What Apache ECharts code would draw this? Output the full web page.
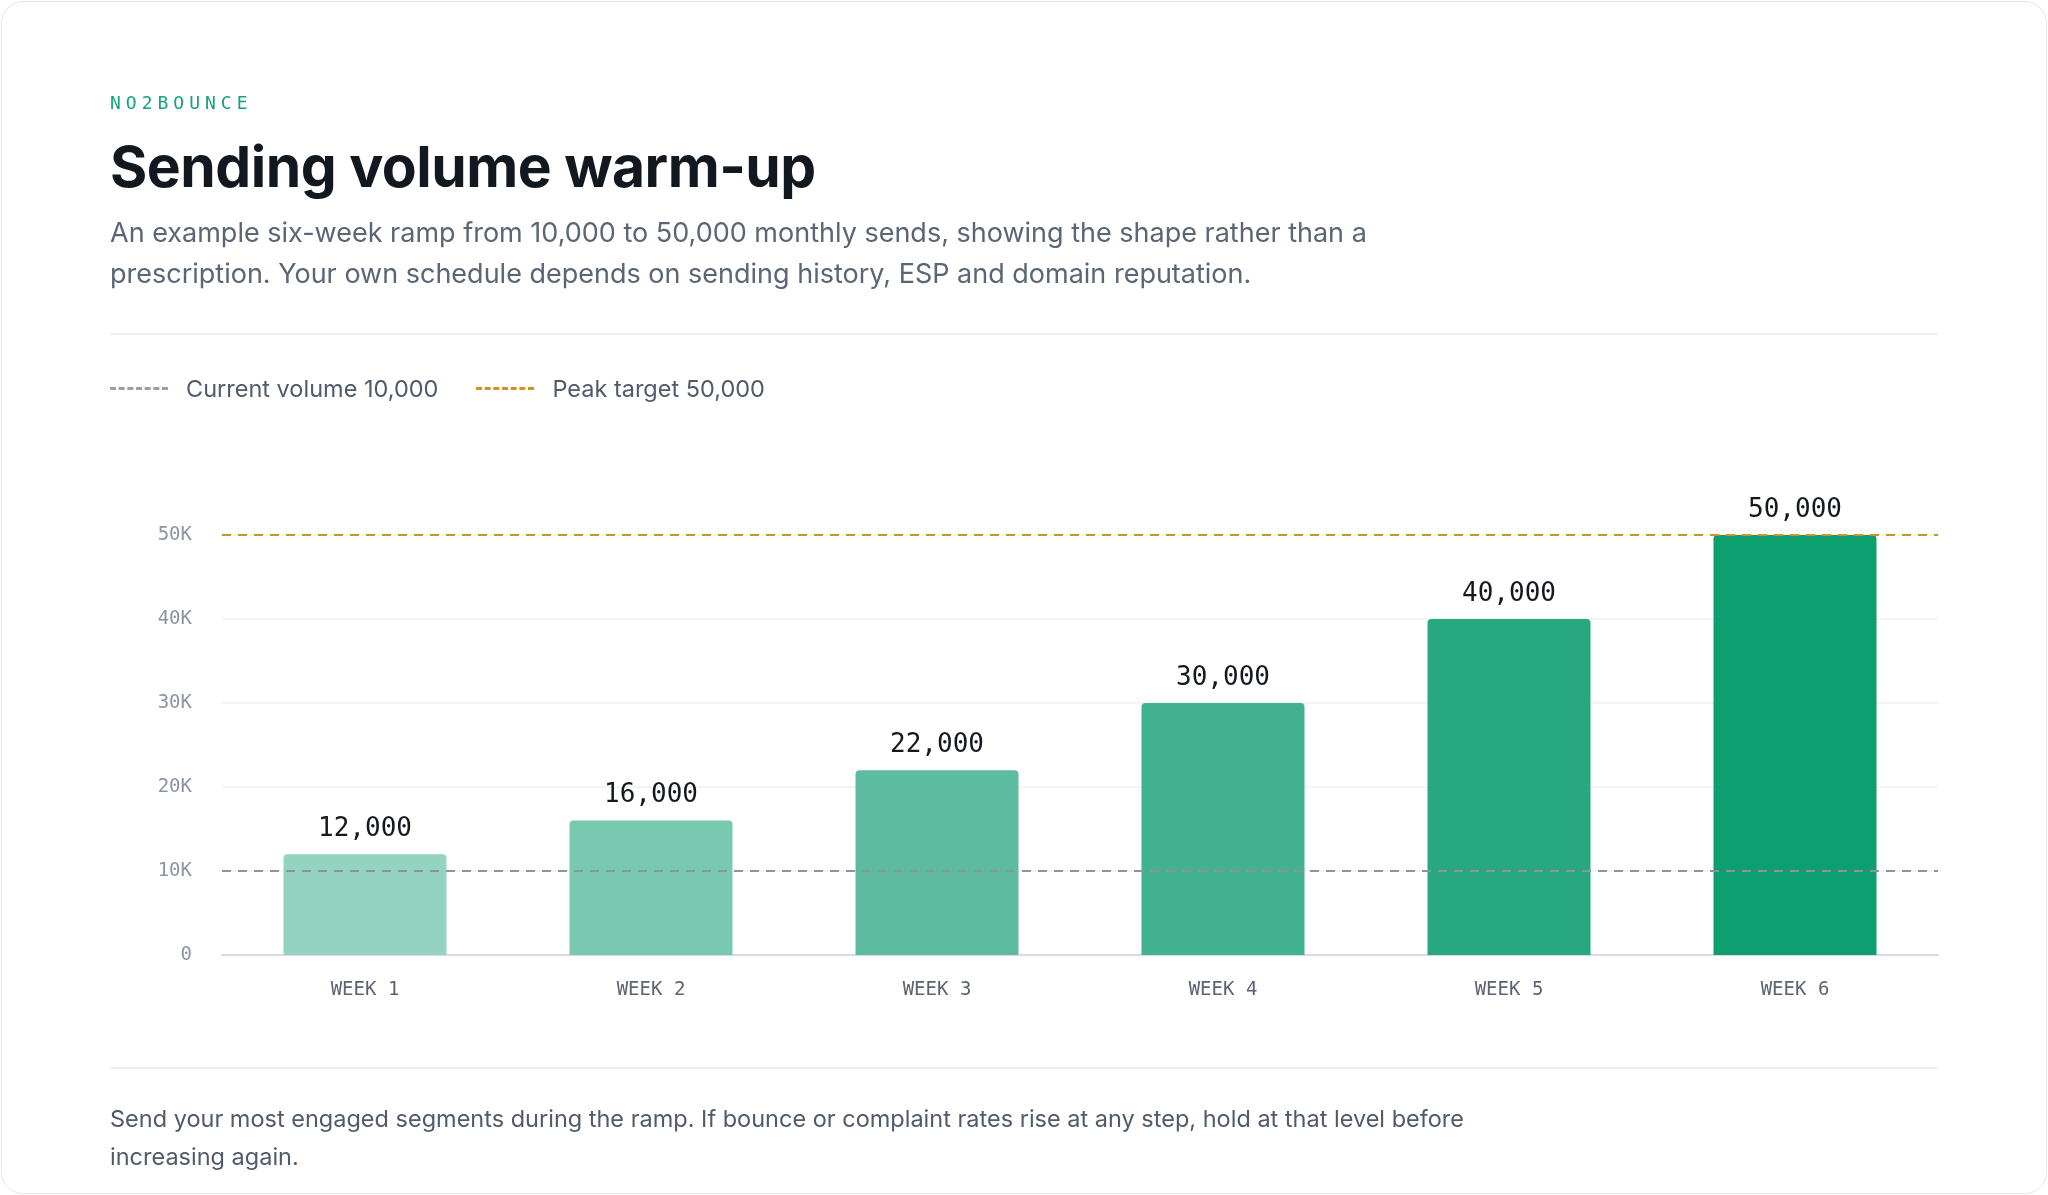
<!DOCTYPE html>
<html>
<head>
<meta charset="utf-8">
<script src="https://cdn.jsdelivr.net/npm/echarts@6/dist/echarts.min.js"></script>
<style>
  html, body { margin: 0; padding: 0; background: #fff; }
  body { width: 2048px; height: 1195px; position: relative; overflow: hidden; font-family: Inter, "Noto Sans", sans-serif; }
  #card { position: absolute; left: 1px; top: 1px; width: 2044px; height: 1191px; border: 1px solid #e3e6ea; border-radius: 22px; }
  #chart { position: absolute; left: 0; top: 0; width: 2048px; height: 1195px; }
  .txt { position: absolute; left: 110px; }
  #kicker { top: 92px; font-family: "DejaVu Sans Mono", monospace; font-size: 18px; letter-spacing: 5px; color: #16a37a; }
  #title { top: 132px; font-size: 57px; font-weight: 700; color: #111820; letter-spacing: -0.5px; }
  #sub { top: 212px; font-size: 27px; line-height: 41px; color: #5a6676; width: 1400px; }
  .rule { position: absolute; left: 110px; width: 1828px; height: 0; border-top: 2px solid #eceef1; }
  #legend { top: 374px; font-size: 23.5px; color: #4f5b6b; display: flex; align-items: center; }
  .sw { display: inline-block; width: 58px; border-top: 3px dashed; margin-right: 18px; }
  #foot { top: 1100px; font-size: 23.5px; line-height: 38px; color: #4f5b6b; width: 1400px; }
</style>
</head>
<body>
<div id="card"></div>
<div id="chart"></div>
<div class="txt" id="kicker">NO2BOUNCE</div>
<div class="txt" id="title">Sending volume warm-up</div>
<div class="txt" id="sub">An example six-week ramp from 10,000 to 50,000 monthly sends, showing the shape rather than a prescription. Your own schedule depends on sending history, ESP and domain reputation.</div>
<div class="rule" style="top:333px"></div>
<div class="txt" id="legend">
  <span class="sw" style="border-color:#98a0aa"></span><span>Current volume 10,000</span>
  <span class="sw" style="border-color:#d4902a;margin-left:38px"></span><span>Peak target 50,000</span>
</div>
<div class="rule" style="top:1067px"></div>
<div class="txt" id="foot">Send your most engaged segments during the ramp. If bounce or complaint rates rise at any step, hold at that level before increasing again.</div>
<script>
// Chart data
var weeks = ["WEEK 1", "WEEK 2", "WEEK 3", "WEEK 4", "WEEK 5", "WEEK 6"];
var sends = [12000, 16000, 22000, 30000, 40000, 50000];
var currentVolume = 10000;
var peakTarget = 50000;
var barColors = ["#93d3c0", "#78c9b0", "#5dbc9f", "#42b28f", "#27a87f", "#0e9f71"];

var chart = echarts.init(document.getElementById("chart"));
var mono = "DejaVu Sans Mono, monospace";

chart.setOption({
  animation: false,
  grid: { left: 222, right: 110, top: 535, bottom: 240 },
  xAxis: {
    type: "category",
    data: weeks,
    axisLine: { lineStyle: { color: "#d6dbe1", width: 2 } },
    axisTick: { show: false },
    axisLabel: { color: "#5b6472", fontFamily: mono, fontSize: 19, margin: 26 }
  },
  yAxis: {
    type: "value",
    min: 0,
    max: 50000,
    interval: 10000,
    axisLine: { show: false },
    axisTick: { show: false },
    axisLabel: {
      color: "#8a94a3", fontFamily: mono, fontSize: 19, margin: 30,
      formatter: function (v) { return v === 0 ? "0" : (v / 1000) + "K"; }
    },
    splitLine: { lineStyle: { color: "#eef1f4", width: 1.5 } }
  },
  series: [{
    type: "bar",
    data: sends.map(function (v, i) { return { value: v, itemStyle: { color: barColors[i] } }; }),
    barWidth: 163,
    itemStyle: { borderRadius: [4, 4, 0, 0] },
    label: {
      show: true, position: "top", distance: 12,
      fontFamily: mono, fontSize: 26, color: "#15191f",
      formatter: function (p) { return p.value.toLocaleString("en-US"); }
    },
    markLine: {
      silent: true, symbol: "none", label: { show: false },
      data: [
        { yAxis: currentVolume, lineStyle: { color: "#8e949c", type: [9, 7], width: 2 } },
        { yAxis: peakTarget, lineStyle: { color: "#d4902a", type: [9, 7], width: 2 } }
      ]
    }
  }]
});
</script>
</body>
</html>
